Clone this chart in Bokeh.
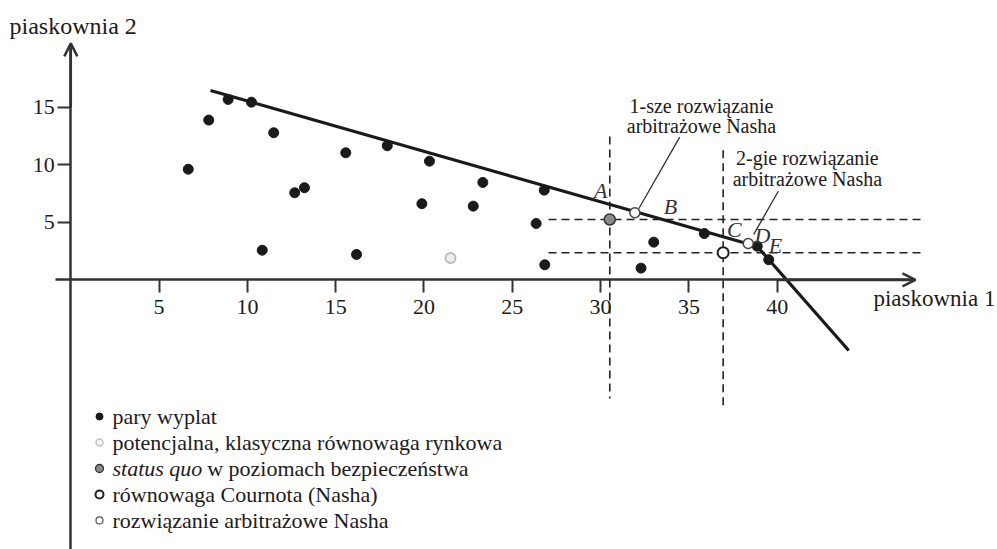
from bokeh.plotting import figure
from bokeh.models import Range1d, FixedTicker, Arrow, OpenHead
from bokeh.core.properties import value
from bokeh.embed import file_html
from bokeh.resources import INLINE

# ---- data ----
pairs_x = [6.65, 7.81, 8.91, 10.23, 11.49, 10.84, 12.68, 13.23, 15.57, 16.18, 17.92,
           20.31, 19.88, 23.33, 22.79, 26.81, 26.35, 26.84, 33.01, 32.29, 35.87, 38.87, 39.52]
pairs_y = [9.63, 13.90, 15.70, 15.46, 12.80, 2.59, 7.58, 8.02, 11.06, 2.22, 11.67,
           10.33, 6.63, 8.48, 6.42, 7.81, 4.91, 1.32, 3.29, 1.03, 4.04, 2.94, 1.76]
market_x = [21.50]
market_y = [1.90]
status_quo_x = [30.52]
status_quo_y = [5.26]
cournot_x = [36.94]
cournot_y = [2.37]
nash_x = [31.94, 38.36]
nash_y = [5.84, 3.17]
frontier_x = [7.91, 38.87, 44.05]
frontier_y = [16.48, 2.91, -6.13]

x_ticks = [5, 10, 15, 20, 25, 30, 35, 40]
y_ticks = [5, 10, 15]

vline_x = [status_quo_x[0], cournot_x[0]]
vline_top = [12.48, 11.28]
vline_bottom = [-10.3, -11.3]
hline_y = [status_quo_y[0], cournot_y[0]]
hline_left = [27.05, 27.05]
hline_right = [48.3, 48.3]

point_labels = ["A", "B", "C", "D", "E"]
point_label_x = [30.0, 33.96, 37.58, 39.17, 39.90]
point_label_y = [7.78, 6.39, 4.39, 3.87, 3.0]

nash1_text = ["1-sze rozwiązanie", "arbitrażowe Nasha"]
nash2_text = ["2-gie rozwiązanie", "arbitrażowe Nasha"]

legend_labels = ["pary wyplat",
                 "potencjalna, klasyczna równowaga rynkowa",
                 "status quo",
                 "równowaga Cournota (Nasha)",
                 "rozwiązanie arbitrażowe Nasha"]
legend_rest = "w poziomach bezpieczeństwa"

# ---- figure ----
FONT = value("Liberation Serif")
INK = "#1e1a1b"

p = figure(width=997, height=549, output_backend="svg", toolbar_location=None,
           x_range=Range1d(-3.981, 52.475), y_range=Range1d(-23.435, 24.30),
           min_border=0)
p.outline_line_color = None
p.grid.visible = False
p.background_fill_color = "white"

# axes through the origin
for ax in (p.xaxis[0], p.yaxis[0]):
    ax.fixed_location = 0
    ax.axis_line_width = 2.5
    ax.axis_line_color = "#333333"
    ax.major_tick_line_width = 2
    ax.major_tick_line_color = "#333333"
    ax.major_tick_in = 0
    ax.major_tick_out = 13
    ax.minor_tick_line_color = None
    ax.major_label_text_font = "Liberation Serif"
    ax.major_label_text_font_size = "22px"
    ax.major_label_text_color = INK
p.xaxis[0].ticker = FixedTicker(ticks=x_ticks)
p.yaxis[0].ticker = FixedTicker(ticks=y_ticks)
p.xaxis[0].bounds = (-0.866, 47.6)
p.yaxis[0].bounds = (-24.0, 20.4)
p.xaxis[0].major_label_standoff = 7
p.yaxis[0].major_label_standoff = 3

p.add_layout(Arrow(end=OpenHead(size=13, line_width=2.5, line_color="#333333"),
                   x_start=40, y_start=0, x_end=47.83, y_end=0,
                   line_width=2.5, line_color="#333333"))
p.add_layout(Arrow(end=OpenHead(size=13, line_width=2.5, line_color="#333333"),
                   x_start=0, y_start=15, x_end=0, y_end=20.57,
                   line_width=2.5, line_color="#333333"))

# axis titles
p.text(x=[-3.47], y=[22.1], text=["piaskownia 2"], text_font=FONT,
       text_font_size="24px", text_color=INK, text_baseline="alphabetic")
p.text(x=[45.45], y=[-1.65], text=["piaskownia 1"], text_font=FONT,
       text_font_size="23px", text_color=INK, text_baseline="alphabetic")

# dashed guide lines
p.segment(x0=vline_x, y0=vline_top, x1=vline_x, y1=vline_bottom,
          line_color="#222222", line_width=1.6, line_dash="8 5")
p.segment(x0=hline_left, y0=hline_y, x1=hline_right, y1=hline_y,
          line_color="#222222", line_width=1.6, line_dash="8 5")

# frontier
p.line(frontier_x, frontier_y, line_color="#1a1a1a", line_width=3.2)

# leader lines
p.segment(x0=[34.48, 40.07], y0=[12.42, 7.74], x1=[32.16, 38.67], y1=[6.19, 3.96],
          line_color="#333333", line_width=1.3)

# points
p.scatter(pairs_x, pairs_y, size=10, fill_color="#1a1a1a", line_color="#1a1a1a")
p.scatter(market_x, market_y, size=10, fill_color="#eeeeee", line_color="#bbbbbb", line_width=2)
p.scatter(status_quo_x, status_quo_y, size=11, fill_color="#8a8a8a", line_color="#333333", line_width=1.5)
p.scatter(cournot_x, cournot_y, size=11, fill_color="white", line_color="#222222", line_width=2)
p.scatter(nash_x, nash_y, size=10, fill_color="white", line_color="#444444", line_width=1.5)

# point letters
p.text(x=point_label_x, y=point_label_y, text=point_labels, text_font=FONT,
       text_font_style="italic", text_font_size="22px", text_color="#333333",
       text_align="center", text_baseline="middle")

# annotations
p.text(x=[35.71, 35.71], y=[15.17, 13.43], text=nash1_text, text_font=FONT,
       text_font_size="20px", text_color=INK, text_align="center", text_baseline="middle")
p.text(x=[41.71, 41.71], y=[10.57, 8.74], text=nash2_text, text_font=FONT,
       text_font_size="20px", text_color=INK, text_align="center", text_baseline="middle")

# legend
leg_y = [-11.87, -14.13, -16.39, -18.65, -20.91]
leg_mx = 1.625
leg_tx = 2.36
p.scatter([leg_mx], [leg_y[0]], size=7, fill_color="#1a1a1a", line_color="#1a1a1a")
p.scatter([leg_mx], [leg_y[1]], size=7, fill_color="#f2f2f2", line_color="#c4c4c4", line_width=1.5)
p.scatter([leg_mx], [leg_y[2]], size=8, fill_color="#8a8a8a", line_color="#333333", line_width=1.3)
p.scatter([leg_mx], [leg_y[3]], size=8, fill_color="white", line_color="#222222", line_width=2)
p.scatter([leg_mx], [leg_y[4]], size=7, fill_color="white", line_color="#555555", line_width=1.2)

normal_idx = [0, 1, 3, 4]
p.text(x=[leg_tx] * 4, y=[leg_y[i] for i in normal_idx], text=[legend_labels[i] for i in normal_idx],
       text_font=FONT, text_font_size="22px", text_color=INK, text_baseline="middle")
p.text(x=[leg_tx], y=[leg_y[2]], text=[legend_labels[2]], text_font=FONT,
       text_font_style="italic", text_font_size="22px", text_color=INK, text_baseline="middle")
p.text(x=[7.72], y=[leg_y[2]], text=[legend_rest], text_font=FONT,
       text_font_size="22px", text_color=INK, text_baseline="middle")

open("out.html", "w").write(file_html(p, INLINE))
